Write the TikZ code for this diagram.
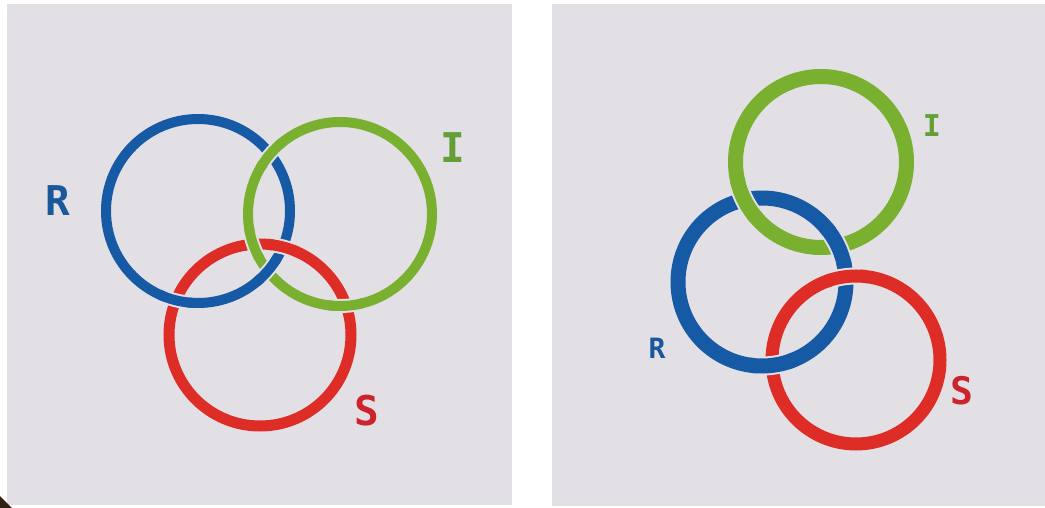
\documentclass[tikz,border=0pt]{standalone}
\usepackage{fontspec}
\setmonofont{DejaVu Sans Mono}
\definecolor{papergrey}{RGB}{226,224,228}
\definecolor{ringblue}{RGB}{22,90,165}
\definecolor{ringgreen}{RGB}{122,176,48}
\definecolor{ringred}{RGB}{222,44,38}
\definecolor{lblblue}{RGB}{25,88,155}
\definecolor{lblgreen}{RGB}{100,158,55}
\definecolor{lblred}{RGB}{205,35,45}

% ring #3 (radius #4, width #5, colour #6) passes over at crossing #1
\newcommand{\overring}[6]{%
  \begin{scope}
    \clip #1 circle[radius=#2];
    \draw[papergrey, line width=#5+4] #3 circle[radius=#4];
  \end{scope}
  \begin{scope}
    \clip #1 circle[radius=#2+5];
    \draw[#6, line width=#5] #3 circle[radius=#4];
  \end{scope}}

\begin{document}
\begin{tikzpicture}[x=1pt,y=-1pt,
    lbl/.style={inner sep=0pt, font=\ttfamily\bfseries\fontsize{#1}{#1}\selectfont}]
    \useasboundingbox (0,0) rectangle (1045,508);

    % two sheets of paper
    \fill[papergrey] (7,4) rectangle (512,505);
    \fill[papergrey] (552,4) rectangle (1045,506);
    \fill[black!75!brown] (0,496) -- (12,508) -- (0,508) -- cycle;

    % left: Borromean rings
    \def\rL{92}
    \draw[ringblue, line width=10] (198,211) circle[radius=\rL];
    \draw[ringgreen, line width=10] (340,214) circle[radius=\rL];
    \draw[ringred, line width=11] (260,335) circle[radius=91];

    % crossings on the left
    \overring{(270,154)}{13}{(340,214)}{\rL}{10}{ringgreen}
    \overring{(268,271)}{12}{(198,211)}{\rL}{10}{ringblue}
    \overring{(176,300)}{13}{(198,211)}{\rL}{10}{ringblue}
    \overring{(283,247)}{12}{(260,335)}{91}{11}{ringred}
    \overring{(253,244)}{12}{(340,214)}{\rL}{10}{ringgreen}
    \overring{(346,306)}{13}{(340,214)}{\rL}{10}{ringgreen}

    \node[lbl=41, lblblue] (labRl) at (58,201) {R};
    \node[lbl=41, lblgreen] (labIl) at (453,148) {I};
    \node[lbl=41, lblred] (labSl) at (367,411) {S};

    % right: chain of rings
    \draw[ringgreen, line width=15] (821,162) circle[radius=85.5];
    \draw[ringblue, line width=15] (762,282) circle[radius=84];
    \draw[ringred, line width=13] (856,360) circle[radius=84];

    % crossings on the right
    \overring{(744,200)}{18}{(821,162)}{85.5}{15}{ringgreen}
    \overring{(838,246)}{18}{(762,282)}{84}{15}{ringblue}
    \overring{(846,277)}{17}{(856,360)}{84}{13}{ringred}
    \overring{(772,365)}{18}{(762,282)}{84}{15}{ringblue}

    \node[lbl=30, lblgreen] (labIr) at (932,126) {I};
    \node[lbl=28, lblblue] (labRr) at (657,348) {R};
    \node[lbl=38, lblred] (labSr) at (962,391) {S};
\end{tikzpicture}
\end{document}
